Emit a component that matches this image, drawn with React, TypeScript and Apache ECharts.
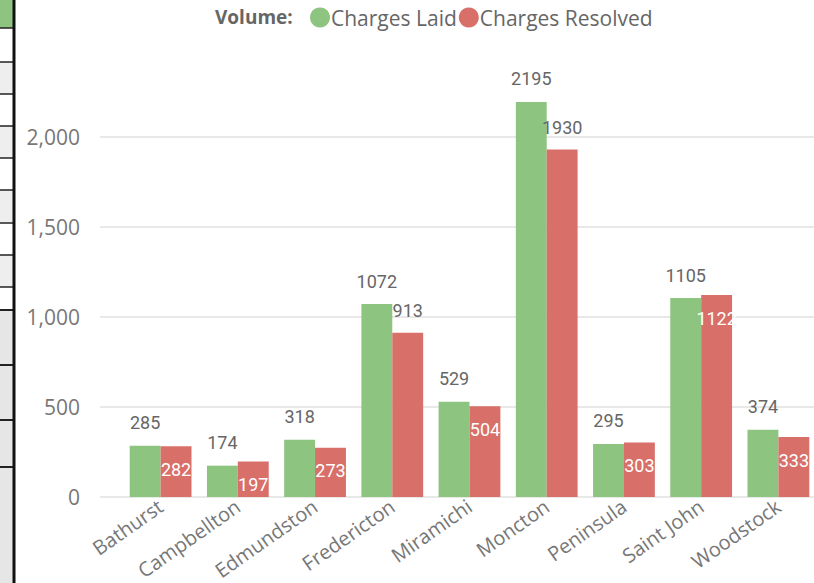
import React, { useEffect, useRef } from "react";
import * as echarts from "echarts";

const categories = ["Bathurst", "Campbellton", "Edmundston", "Fredericton", "Miramichi", "Moncton", "Peninsula", "Saint John", "Woodstock"];
const chargesLaid = [285, 174, 318, 1072, 529, 2195, 295, 1105, 374];
const chargesResolved = [282, 197, 273, 913, 504, 1930, 303, 1122, 333];
// which resolved labels sit above the bar (others inside, white)
const resolvedOutside = [false, false, false, true, false, true, false, false, false];
const yTicks = [0, 500, 1000, 1500, 2000];

const GREEN = "#8dc47f";
const RED = "#d86f69";
const LABEL_FONT = "Roboto, sans-serif";
const UI_FONT = "Open Sans, sans-serif";

export default function App() {
  const ref = useRef<HTMLDivElement>(null);
  useEffect(() => {
    if (!ref.current) return;
    const chart = echarts.init(ref.current, undefined, { renderer: "svg" });
    const leftStrip: any[] = [
      { type: "rect", shape: { x: 0, y: 0, width: 14, height: 583 }, style: { fill: "#e6e6e6" }, silent: true },
      { type: "rect", shape: { x: 0, y: 0, width: 14, height: 310 }, style: { fill: "#ffffff" }, silent: true },
      { type: "rect", shape: { x: 0, y: 0, width: 14, height: 28 }, style: { fill: "#8dc47f" }, silent: true },
      ...[62, 126, 190, 255].map((y) => ({ type: "rect", shape: { x: 0, y, width: 14, height: 32 }, style: { fill: "#eeeeee" }, silent: true })),
      ...[28, 62, 94, 126, 158, 190, 223, 255, 287].map((y) => ({ type: "line", shape: { x1: 0, y1: y, x2: 14, y2: y }, style: { stroke: "#222", lineWidth: 1.5 }, silent: true })),
      ...[310, 365, 420, 467].map((y) => ({ type: "line", shape: { x1: 0, y1: y, x2: 14, y2: y }, style: { stroke: "#222", lineWidth: 2 }, silent: true })),
      { type: "line", shape: { x1: 14, y1: 0, x2: 14, y2: 583 }, style: { stroke: "#111", lineWidth: 3 }, silent: true },
    ];
    const yBase = { type: "value", min: 0, max: 2400, interval: 500, axisLine: { show: false }, axisTick: { show: false } };
    chart.setOption({
      animation: false,
      backgroundColor: "#ffffff",
      graphic: leftStrip,
      title: {
        text: "Volume:",
        left: 210,
        top: 2,
        textStyle: { fontFamily: UI_FONT, fontSize: 19, fontWeight: "bold", color: "#666666" },
      },
      legend: {
        left: 305,
        top: 2,
        icon: "circle",
        itemWidth: 20,
        itemHeight: 20,
        itemGap: 2,
        textStyle: { fontFamily: UI_FONT, fontSize: 21, color: "#666666", padding: [0, 0, 0, -4] },
        data: ["Charges Laid", "Charges Resolved"],
      },
      grid: [
        { left: 122, right: -3, top: 65, bottom: 86, containLabel: false, outerBoundsMode: "none" },
        { left: 100, right: -3, top: 65, bottom: 86, containLabel: false, outerBoundsMode: "none" },
      ],
      xAxis: [
        {
          type: "category",
          gridIndex: 0,
          data: categories,
          axisLine: { show: false },
          axisTick: { show: false },
          axisLabel: { rotate: 35, fontFamily: UI_FONT, fontSize: 20, color: "#777777", margin: 7, interval: 0 },
        },
        { type: "category", gridIndex: 1, data: categories, show: false },
      ],
      yAxis: [
        {
          ...yBase,
          gridIndex: 0,
          axisLabel: {
            fontFamily: UI_FONT,
            fontSize: 21,
            color: "#777777",
            margin: 42,
            showMaxLabel: false,
            formatter: (v: number) => (yTicks.includes(v) ? v.toLocaleString("en-US") : ""),
          },
          splitLine: { show: false },
        },
        {
          ...yBase,
          gridIndex: 1,
          axisLabel: { show: false },
          splitLine: { show: true, showMaxLine: false, lineStyle: { color: "#e8e8e8", width: 2 } },
        },
      ],
      series: [
        {
          name: "Charges Laid",
          type: "bar",
          xAxisIndex: 0,
          yAxisIndex: 0,
          data: chargesLaid,
          itemStyle: { color: GREEN },
          barGap: "0%",
          barCategoryGap: "20%",
          z: 3,
          label: {
            show: true,
            position: "top",
            distance: 14,
            fontFamily: LABEL_FONT,
            fontSize: 18,
            color: "#666666",
          },
        },
        {
          name: "Charges Resolved",
          type: "bar",
          xAxisIndex: 0,
          yAxisIndex: 0,
          itemStyle: { color: RED },
          barGap: "0%",
          barCategoryGap: "20%",
          z: 3,
          data: chargesResolved.map((v, i) => ({
            value: v,
            label: resolvedOutside[i]
              ? { show: true, position: "top", distance: 13, color: "#666666" }
              : { show: true, position: "insideTop", distance: 14, color: "#ffffff" },
          })),
          label: { show: true, fontFamily: LABEL_FONT, fontSize: 18 },
        },
      ],
    });
    return () => chart.dispose();
  }, []);
  return <div ref={ref} style={{ position: "absolute", left: 0, top: 0, width: 814, height: 583 }} />;
}
